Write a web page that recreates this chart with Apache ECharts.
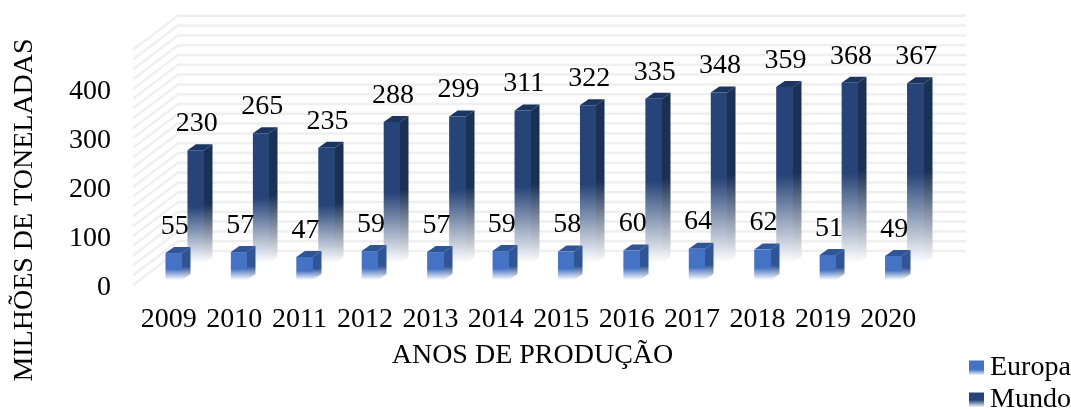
<!DOCTYPE html>
<html>
<head>
<meta charset="utf-8">
<style>
  html, body { margin: 0; padding: 0; background: #fff; }
  #chart { width: 1071px; height: 409px; }
</style>
<script src="https://cdn.jsdelivr.net/npm/echarts@6/dist/echarts.min.js"></script>
</head>
<body>
<div id="chart"></div>
<script>
const years = ['2009', '2010', '2011', '2012', '2013', '2014', '2015', '2016', '2017', '2018', '2019', '2020']
const europa = [55, 57, 47, 59, 57, 59, 58, 60, 64, 62, 51, 49]
const mundo = [230, 265, 235, 288, 299, 311, 322, 335, 348, 359, 368, 367]
const wallLines = [0, 20, 40, 60, 80, 100, 120, 140, 160, 180, 200, 220, 240, 260, 280, 300, 320, 340, 360, 380, 400, 420, 440, 460, 480]

const FONT = '"Liberation Serif", "Times New Roman", serif'
const FONT_SIZE = 28

// profundidade do "3D": parede do fundo e lateral das barras
const WALL = { dx: 42, dy: -34 }
const BAR = { width: 16.5, dx: 8.5, dy: -6 }

const fade = (color, solidTo) => new echarts.graphic.LinearGradient(0, 0, 0, 1, [
  { offset: 0, color: color },
  { offset: solidTo, color: color },
  { offset: 1, color: '#ffffff' }
])

const poly = (points, fill) => ({ type: 'polygon', shape: { points: points }, style: { fill: fill } })

// uma série de barras 3D, deslocada da categoria (off) para simular a fila
const barSeries = (name, values, off, colors, solidTo) => ({
  name: name,
  type: 'custom',
  itemStyle: { color: fade(colors.front, solidTo) },
  data: values.map((v, i) => [i, v]),
  renderItem: (params, api) => {
    const base = api.coord([api.value(0), 0])
    const top = api.coord([api.value(0), api.value(1)])
    const x0 = base[0] + off.x - BAR.width / 2
    // aresta inteira para não aparecer fresta clara entre frente e lateral
    const x1 = Math.round(x0 + BAR.width)
    const yb = base[1] + off.y
    const yt = top[1] + off.y
    const bx = BAR.dx
    const by = BAR.dy
    return {
      type: 'group',
      children: [
        poly([[x1, yt], [x1 + bx, yt + by], [x1 + bx, yb + by], [x1, yb]], fade(colors.side, solidTo)),
        poly([[x0, yt], [x0 + bx, yt + by], [x1 + bx, yt + by], [x1, yt]], colors.top),
        poly([[x0, yt], [x1, yt], [x1, yb], [x0, yb]], fade(colors.front, solidTo)),
        {
          type: 'text',
          z2: 10,
          style: {
            text: String(api.value(1)),
            x: x0 + BAR.width / 2 + 1,
            y: yt + by - 20.5,
            align: 'center',
            verticalAlign: 'middle',
            fill: '#000',
            font: FONT_SIZE + 'px ' + FONT
          }
        }
      ]
    }
  }
})

const wallSeries = {
  type: 'custom',
  silent: true,
  data: wallLines.map((v) => [v]),
  renderItem: (params, api) => {
    const left = api.coord([0, api.value(0)])
    const right = api.coord([years.length - 1, api.value(0)])
    const band = api.size([1, 0])[0]
    const x0 = left[0] - band / 2
    const x1 = right[0] + band / 2
    const y = left[1]
    return {
      type: 'polyline',
      shape: { points: [[x0 - 3, y], [x0 + WALL.dx, y + WALL.dy], [x1 + WALL.dx + 3, y + WALL.dy]] },
      style: { stroke: '#efefef', lineWidth: 2.5, fill: 'none' }
    }
  }
}

// uma legenda por entrada: duas linhas de 28px não cabem juntas no fim da janela
const legendEntry = (name, top) => ({
  orient: 'vertical',
  left: 969,
  top: top,
  itemWidth: 15,
  itemHeight: 15,
  padding: 0,
  icon: 'rect',
  data: [name],
  textStyle: { fontFamily: FONT, fontSize: FONT_SIZE, color: '#000', padding: [0, 0, 0, 1] }
})

const getChartOption = () => ({
  animation: false,
  grid: { left: 136, top: 49.8, width: 785, height: 235.2 },
  legend: [legendEntry('Europa', 354), legendEntry('Mundo', 386)],
  xAxis: {
    type: 'category',
    data: years,
    name: 'ANOS DE PRODUÇÃO',
    nameLocation: 'middle',
    nameGap: 57,
    nameTextStyle: { fontFamily: FONT, fontSize: FONT_SIZE, color: '#000', padding: [0, 0, 0, 8] },
    axisLine: { show: false },
    axisTick: { show: false },
    axisLabel: { fontFamily: FONT, fontSize: FONT_SIZE, color: '#000', margin: 21, interval: 0 }
  },
  yAxis: {
    type: 'value',
    min: 0,
    max: 480,
    interval: 100,
    axisLine: { show: false },
    axisTick: { show: false },
    splitLine: { show: false },
    axisLabel: {
      margin: 25,
      showMaxLabel: false,
      formatter: (v) => '{t|' + v + '}',
      rich: { t: { fontFamily: FONT, fontSize: FONT_SIZE, color: '#000', padding: [6, 0, 0, 0] } }
    }
  },
  graphic: [{
    type: 'text',
    x: 25,
    y: 210,
    rotation: Math.PI / 2,
    style: {
      text: 'MILHÕES DE TONELADAS',
      align: 'center',
      verticalAlign: 'middle',
      fill: '#000',
      font: FONT_SIZE + 'px ' + FONT
    }
  }],
  series: [
    wallSeries,
    barSeries('Mundo', mundo, { x: 27, y: -22 }, { front: '#264478', side: '#1a3055', top: '#1c3560' }, 0.5),
    barSeries('Europa', europa, { x: 5, y: -5 }, { front: '#4472c4', side: '#2f5597', top: '#2f5597' }, 0.6)
  ]
})

const chartInstance = echarts.init(document.getElementById('chart'))
chartInstance.setOption(getChartOption())
</script>
</body>
</html>
